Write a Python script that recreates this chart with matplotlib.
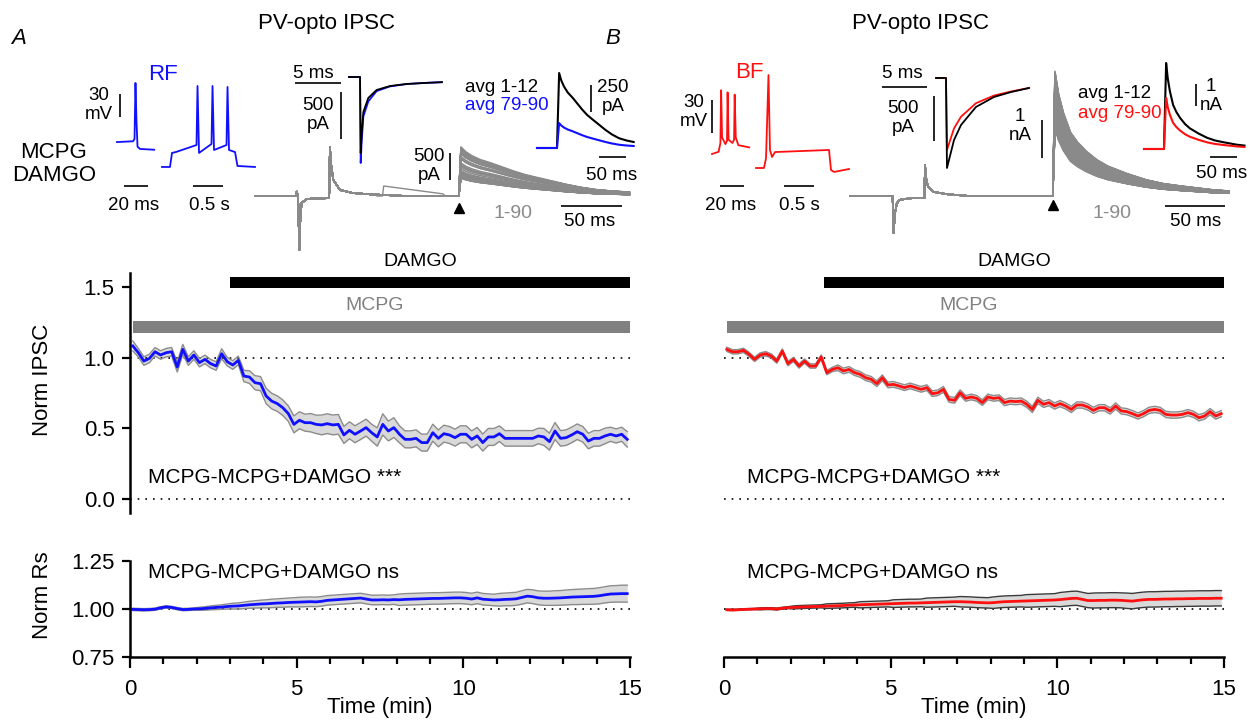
import numpy as np
import matplotlib
matplotlib.use("Agg")
import matplotlib.pyplot as plt
from matplotlib.ticker import FixedLocator, MultipleLocator

plt.rcParams['font.family'] = ['Liberation Sans', 'DejaVu Sans']

# ------------------------------------------------------------------ data
n_sweeps = 90
sweep_min = 1 / 6          # one sweep every 10 s
time_min = (np.arange(n_sweeps) + 0.5) * sweep_min

ipsc_rf = [1.083, 1.035, 0.976, 0.995, 1.042, 1.019, 1.035, 1.042, 0.934, 1.059,
           0.976, 1.019, 0.965, 0.988, 0.958, 0.941, 1.028, 0.972, 0.948, 0.981,
           0.870, 0.863, 0.823, 0.816, 0.729, 0.693, 0.675, 0.646, 0.604, 0.528,
           0.557, 0.540, 0.540, 0.528, 0.524, 0.533, 0.524, 0.528, 0.453, 0.486,
           0.458, 0.481, 0.505, 0.469, 0.439, 0.528, 0.481, 0.505, 0.458, 0.422,
           0.422, 0.429, 0.399, 0.399, 0.469, 0.429, 0.462, 0.453, 0.434, 0.458,
           0.458, 0.422, 0.446, 0.399, 0.439, 0.439, 0.462, 0.429, 0.429, 0.429,
           0.429, 0.429, 0.429, 0.446, 0.439, 0.406, 0.481, 0.429, 0.434, 0.453,
           0.476, 0.458, 0.410, 0.429, 0.429, 0.446, 0.458, 0.446, 0.458, 0.422]
ipsc_rf_sem = [0.035, 0.030, 0.030, 0.030, 0.030, 0.030, 0.030, 0.030, 0.035, 0.035,
               0.030, 0.030, 0.030, 0.030, 0.030, 0.030, 0.035, 0.030, 0.030, 0.030,
               0.040, 0.045, 0.050, 0.050, 0.055, 0.055, 0.055, 0.055, 0.055, 0.060,
               0.060, 0.060, 0.065, 0.065, 0.070, 0.070, 0.070, 0.070, 0.060, 0.060,
               0.060, 0.060, 0.060, 0.060, 0.065, 0.075, 0.070, 0.070, 0.060, 0.060,
               0.060, 0.060, 0.060, 0.060, 0.060, 0.060, 0.060, 0.060, 0.060, 0.060,
               0.060, 0.060, 0.060, 0.060, 0.060, 0.060, 0.055, 0.055, 0.055, 0.055,
               0.055, 0.055, 0.055, 0.055, 0.060, 0.060, 0.060, 0.055, 0.055, 0.055,
               0.055, 0.055, 0.055, 0.055, 0.055, 0.055, 0.050, 0.050, 0.050, 0.055]

ipsc_bf = [1.059, 1.042, 1.042, 1.052, 1.024, 0.988, 1.019, 1.028, 1.012, 0.976,
           1.047, 0.958, 0.988, 0.941, 0.976, 0.941, 0.941, 1.005, 0.894, 0.917,
           0.929, 0.906, 0.917, 0.894, 0.882, 0.858, 0.847, 0.816, 0.858, 0.807,
           0.811, 0.800, 0.788, 0.800, 0.788, 0.776, 0.788, 0.745, 0.752, 0.776,
           0.705, 0.698, 0.752, 0.712, 0.722, 0.712, 0.682, 0.722, 0.712, 0.717,
           0.682, 0.693, 0.689, 0.693, 0.670, 0.634, 0.698, 0.670, 0.682, 0.658,
           0.675, 0.658, 0.634, 0.665, 0.665, 0.651, 0.627, 0.646, 0.646, 0.623,
           0.658, 0.623, 0.618, 0.604, 0.587, 0.604, 0.627, 0.634, 0.627, 0.599,
           0.594, 0.594, 0.599, 0.611, 0.599, 0.575, 0.587, 0.618, 0.587, 0.604]
ipsc_bf_sem = [0.015] * 20 + [0.020] * 30 + [0.022] * 40

rs_rf = [0.998, 0.997, 0.996, 0.997, 0.999, 1.006, 1.011, 1.008, 1.002, 0.997,
         0.998, 1.000, 1.001, 1.003, 1.006, 1.008, 1.010, 1.013, 1.015, 1.016,
         1.019, 1.022, 1.024, 1.026, 1.027, 1.029, 1.031, 1.032, 1.034, 1.035,
         1.036, 1.037, 1.038, 1.037, 1.040, 1.045, 1.047, 1.049, 1.051, 1.053,
         1.055, 1.057, 1.052, 1.047, 1.047, 1.048, 1.047, 1.049, 1.048, 1.050,
         1.051, 1.052, 1.053, 1.054, 1.055, 1.055, 1.056, 1.057, 1.058, 1.058,
         1.056, 1.052, 1.058, 1.051, 1.049, 1.047, 1.048, 1.050, 1.051, 1.053,
         1.060, 1.067, 1.064, 1.058, 1.056, 1.056, 1.057, 1.058, 1.060, 1.062,
         1.063, 1.064, 1.065, 1.066, 1.069, 1.074, 1.078, 1.079, 1.080, 1.080]
rs_rf_sem = [0.006] * 12 + [0.008, 0.009, 0.010, 0.011, 0.012, 0.013] + \
            [0.015, 0.016, 0.017, 0.018, 0.019, 0.020, 0.021, 0.022, 0.022, 0.023, 0.023, 0.024] + \
            [0.025] * 18 + [0.030] * 18 + \
            [0.033, 0.033, 0.034, 0.034, 0.035, 0.035, 0.036, 0.036, 0.037, 0.037, 0.038, 0.038,
             0.039, 0.039, 0.040, 0.040, 0.041, 0.041, 0.042, 0.042, 0.043, 0.043, 0.044, 0.044]

rs_bf = [0.996, 0.995, 0.996, 0.998, 0.999, 1.000, 1.001, 1.002, 1.002, 1.000,
         1.004, 1.007, 1.008, 1.010, 1.011, 1.012, 1.013, 1.014, 1.015, 1.016,
         1.017, 1.018, 1.020, 1.021, 1.022, 1.023, 1.024, 1.025, 1.026, 1.027,
         1.028, 1.029, 1.030, 1.031, 1.031, 1.032, 1.033, 1.034, 1.035, 1.036,
         1.037, 1.038, 1.038, 1.037, 1.036, 1.034, 1.033, 1.032, 1.033, 1.036,
         1.038, 1.039, 1.040, 1.041, 1.042, 1.043, 1.044, 1.045, 1.046, 1.047,
         1.049, 1.052, 1.055, 1.056, 1.050, 1.044, 1.044, 1.045, 1.045, 1.046,
         1.046, 1.045, 1.043, 1.041, 1.045, 1.048, 1.050, 1.050, 1.051, 1.052,
         1.052, 1.053, 1.053, 1.054, 1.054, 1.055, 1.055, 1.055, 1.056, 1.056]
rs_bf_sem = [0.003] * 6 + [0.005] * 6 + [0.008] * 6 + [0.012] * 6 + [0.016] * 6 + \
            [0.020] * 6 + [0.024] * 6 + [0.027] * 6 + [0.030] * 6 + [0.033] * 6 + \
            [0.037] * 6 + [0.039] * 6 + [0.040] * 18

drug_damgo = (3.0, 15.0)
drug_mcpg = (0.1, 15.0)

# example-cell traces
ap_rf_1_t = [0, 13.3, 14.6, 15.4, 16.2, 17.1, 19.2, 31]                       # ms
ap_rf_1_v = [-65, -64, -61, 12, -36, -71, -74, -75]                          # mV
ap_rf_2_t = [0, 0.133, 0.167, 0.233, 0.575, 0.592, 0.617, 0.825, 0.842, 0.867,
             1.075, 1.092, 1.117, 1.217, 1.258, 1.55]                         # s
ap_rf_2_v = [-80, -80, -61.7, -60.5, -51.4, 25.6, -61.7, -50, 25.6, -57.9,
             -51.4, 24.3, -57.9, -60.5, -78.7, -80]
ap_bf_1_t = [0, 5.5, 7.0, 7.6, 8.4, 11.2, 12.5, 13.0, 13.8, 17.0, 18.4, 18.9, 19.8, 22, 31]
ap_bf_1_v = [-65, -63, -55, -7, -50, -56, -53, -9, -52, -55, -52, -11, -50, -57, -59]
ap_bf_2_t = [0, 0.133, 0.167, 0.208, 0.233, 0.267, 0.317, 1.217, 1.25, 1.3, 1.55]
ap_bf_2_v = [-75, -75, -66, 9.5, -58.6, -65, -60.5, -58.6, -76.8, -78.6, -75.9]

cap_rf_t = [0, 1.2, 1.27, 1.38, 1.56, 2.1, 3.0, 4.46, 6.27, 8.08, 10.1]       # ms
cap_rf_first = [0, 0, -808, -600, -372, -223, -138, -96, -74, -64, -55]      # pA
cap_rf_last = [0, 0, -915, -680, -420, -260, -150, -100, -75, -64, -55]
cap_bf_t = [0, 1.11, 1.22, 2.0, 2.78, 4.44, 6.44, 8.33, 10.33]
cap_bf_first = [0, 0, -1000, -689, -522, -322, -211, -156, -111]
cap_bf_last = [0, 0, -800, -560, -430, -280, -195, -150, -111]

sweep_rf_t = [0, 33.5, 34.2, 35.3, 36.3, 37.2, 38.2, 42.3, 50, 60.8, 61.4, 62.3,
              64.2, 69.7, 80, 96.7, 124, 167]
sweep_rf_i = [0, 0, 80, 0, -1000, -400, -130, -55, -45, -40, 913, 600,
              296, 111, 55, 28, 0, 0]
sweep_bf_t = [0, 35.5, 36.3, 37.5, 39, 41, 50, 62, 62.5, 63.5, 65, 69, 80, 99, 169]
sweep_bf_i = [0, 0, -965, -450, -200, -105, -60, -50, 816, 450, 250, 113, 50, 0, 0]
spont_rf_t = [100, 104.5, 105.5, 154, 156]
spont_rf_i = [0, 0, 185, 40, 0]

onset_rf, onset_bf = 167.0, 169.0       # ms, light pulse in sweep
rise_ms = 1.8
peak_rf_pA, peak_bf_pA = 840.0, 3100.0  # first-sweep amplitude (norm = 1)
decay_rf_t = [0, 4, 9, 16, 25, 34, 43, 52, 62, 74, 86, 98, 111, 125, 138]
decay_rf_f = [1.0, 0.90, 0.82, 0.74, 0.67, 0.59, 0.51, 0.44, 0.38, 0.31, 0.24, 0.18, 0.13, 0.10, 0.08]
decay_bf_t = [0, 3, 7, 13, 19, 26, 35, 44, 60, 76, 90, 105, 118, 131, 145]
decay_bf_f = [1.0, 0.82, 0.67, 0.51, 0.43, 0.36, 0.29, 0.24, 0.18, 0.13, 0.10, 0.08, 0.065, 0.05, 0.04]

avg_rf_peaks = [694, 231]       # pA, avg 1-12 / avg 79-90
avg_bf_peaks = [3909, 2318]
avg_onset, avg_rise = 37.0, 4.0

# ------------------------------------------------------------------ styles
BLUE = '#1010ff'
RED = '#ff1010'
TGRAY = '#8a8a8a'
W, H = 1251, 721
fig = plt.figure(figsize=(W / 100, H / 100), dpi=100)


def fpos(L, T, R, B):
    return [L / W, 1 - B / H, (R - L) / W, (B - T) / H]


def ftxt(x, y, s, **kw):
    kw.setdefault('ha', 'center')
    kw.setdefault('va', 'center')
    fig.text(x / W, 1 - y / H, s, **kw)


class Inset:
    def __init__(self, L, T, R, B, ox, oy, sx, sy):
        self.ox, self.oy, self.sx, self.sy = ox, oy, sx, sy
        ax = fig.add_axes(fpos(L, T, R, B))
        ax.set_xlim((L - ox) / sx, (R - ox) / sx)
        ax.set_ylim((oy - B) / sy, (oy - T) / sy)
        ax.axis('off')
        self.ax = ax

    def dx(self, xp):
        return (xp - self.ox) / self.sx

    def dy(self, yp):
        return (self.oy - yp) / self.sy

    def hbar(self, xp, yp, length):
        x0, y = self.dx(xp), self.dy(yp)
        self.ax.plot([x0, x0 + length], [y, y], color='k', lw=1.2,
                     solid_capstyle='butt', clip_on=False)

    def vbar(self, xp, yp_bottom, length):
        x, y0 = self.dx(xp), self.dy(yp_bottom)
        self.ax.plot([x, x], [y0, y0 + length], color='k', lw=1.2,
                     solid_capstyle='butt', clip_on=False)

    def plot(self, t, v, **kw):
        self.ax.plot(t, v, clip_on=False, **kw)


FS_IN = 13.5
FS_TICK = 16

# ------------------------------------------------------------------ time courses
def timecourse(L, mean, sem, color, edge, show_y, txt_x):
    mean = np.array(mean); sem = np.array(sem)
    ax = fig.add_axes(fpos(L, 272.9, L + 500, 513.1))
    ax.set_xlim(0, 15)
    ax.set_ylim(-0.1, 1.6)
    for s in ['top', 'right', 'bottom']:
        ax.spines[s].set_visible(False)
    ax.set_xticks([])
    if show_y:
        ax.spines['left'].set_linewidth(1.8)
        ax.set_yticks([0, 0.5, 1.0, 1.5])
        ax.set_yticklabels(['0.0', '0.5', '1.0', '1.5'])
        ax.tick_params(axis='y', length=6, width=1.6, labelsize=FS_TICK, pad=5)
    else:
        ax.spines['left'].set_visible(False)
        ax.set_yticks([])
    for yl in (0.0, 1.0):
        ax.plot([0, 15], [yl, yl], color='k', lw=1.2, ls=(0, (1, 3.6)))
    ax.fill_between(time_min, mean - sem, mean + sem, color='#d9d9d9', lw=0)
    ax.plot(time_min, mean + sem, color=edge, lw=1.0)
    ax.plot(time_min, mean - sem, color=edge, lw=1.0)
    ax.plot(time_min, mean, color=color, lw=2.0)
    ax.fill_between(drug_damgo, 1.49, 1.57, color='k', lw=0)
    ax.fill_between(drug_mcpg, 1.175, 1.26, color='#808080', lw=0)
    ax.text(8.7, 1.684, 'DAMGO', ha='center', va='center', fontsize=14)
    ax.text(7.35, 1.366, 'MCPG', ha='center', va='center', fontsize=14, color='#808080')
    ax.text(txt_x, 0.149, 'MCPG-MCPG+DAMGO ***', ha='left', va='center', fontsize=15)
    return ax


def rs_axes(L, mean, sem, color, edge, show_y, txt_x):
    mean = np.array(mean); sem = np.array(sem)
    ax = fig.add_axes(fpos(L, 561, L + 500, 657))
    ax.set_xlim(0, 15)
    ax.set_ylim(0.75, 1.25)
    ax.spines['top'].set_visible(False)
    ax.spines['right'].set_visible(False)
    ax.spines['bottom'].set_linewidth(1.8)
    if show_y:
        ax.spines['left'].set_linewidth(1.8)
        ax.set_yticks([0.75, 1.0, 1.25])
        ax.set_yticklabels(['0.75', '1.00', '1.25'])
        ax.tick_params(axis='y', length=6, width=1.6, labelsize=FS_TICK, pad=5)
    else:
        ax.spines['left'].set_visible(False)
        ax.set_yticks([])
    ax.xaxis.set_major_locator(FixedLocator([0, 5, 10, 15]))
    ax.xaxis.set_minor_locator(MultipleLocator(1))
    ax.tick_params(axis='x', which='major', length=8, width=1.6, labelsize=FS_TICK, pad=8)
    ax.tick_params(axis='x', which='minor', length=5, width=1.6)
    ax.plot([0, 15], [1, 1], color='k', lw=1.2, ls=(0, (1, 3.6)))
    ax.fill_between(time_min, mean - sem, mean + sem, color='#d9d9d9', lw=0)
    ax.plot(time_min, mean + sem, color=edge, lw=1.0)
    ax.plot(time_min, mean - sem, color=edge, lw=1.0)
    ax.plot(time_min, mean, color=color, lw=2.0)
    ax.text(txt_x, 1.1875, 'MCPG-MCPG+DAMGO ns', ha='left', va='center', fontsize=15)
    return ax


timecourse(130, ipsc_rf, ipsc_rf_sem, BLUE, '#8c8c8c', True, 0.54)
timecourse(724, ipsc_bf, ipsc_bf_sem, RED, '#8c8c8c', False, 0.68)
rs_axes(130, rs_rf, rs_rf_sem, BLUE, '#8c8c8c', True, 0.555)
rs_axes(724, rs_bf, rs_bf_sem, RED, '#3a3a3a', False, 0.70)

ftxt(43, 380, 'Norm IPSC', rotation=90, fontsize=16)
ftxt(43, 595, 'Norm Rs', rotation=90, fontsize=16)
ftxt(380, 708, 'Time (min)', fontsize=16)
ftxt(974, 708, 'Time (min)', fontsize=16)

# ------------------------------------------------------------------ headers
ftxt(19, 38, 'A', fontsize=16, style='italic')
ftxt(613, 38, 'B', fontsize=16, style='italic')
ftxt(326, 23, 'PV-opto IPSC', fontsize=16)
ftxt(920, 23, 'PV-opto IPSC', fontsize=16)
ftxt(54, 164, 'MCPG\nDAMGO', fontsize=16, linespacing=1.15)


def sweep_trace(base_t, base_i, onset, amp, dec_t, dec_f):
    t = list(base_t) + [onset + rise_ms + d for d in dec_t]
    i = list(base_i) + [amp * f for f in dec_f]
    return t, i


def panel_insets(cfg):
    c = cfg['color']
    # single AP
    a1 = Inset(*cfg['ap1_box'])
    a1.plot(cfg['ap1'][0], cfg['ap1'][1], color=c, lw=1.3)
    a1.vbar(*cfg['ap1_vbar'], 30)
    a1.hbar(*cfg['ap1_hbar'], 20)
    # firing pattern
    a2 = Inset(*cfg['ap2_box'])
    a2.plot(cfg['ap2'][0], cfg['ap2'][1], color=c, lw=1.3)
    a2.hbar(*cfg['ap2_hbar'], 0.5)
    # capacitive transient
    a3 = Inset(*cfg['cap_box'])
    a3.plot(cfg['cap_t'], cfg['cap_last'], color=c, lw=1.3)
    a3.plot(cfg['cap_t'], cfg['cap_first'], color='k', lw=1.3)
    a3.hbar(*cfg['cap_hbar'], 5)
    a3.vbar(*cfg['cap_vbar'], 500)
    # all sweeps
    a4 = Inset(*cfg['sw_box'])
    for k in range(n_sweeps):
        t, i = sweep_trace(cfg['sw_t'], cfg['sw_i'], cfg['onset'],
                           cfg['peak'] * cfg['norm'][k], cfg['dec_t'], cfg['dec_f'])
        a4.plot(t, i, color=TGRAY, lw=1.1)
    if cfg.get('spont'):
        a4.plot(cfg['spont'][0], cfg['spont'][1], color=TGRAY, lw=1.0)
    a4.ax.plot([cfg['onset']], [a4.dy(cfg['tri_y'])], marker='^', color='k',
               ms=7, clip_on=False)
    a4.vbar(*cfg['sw_vbar'], cfg['sw_vlen'])
    a4.hbar(*cfg['sw_hbar'], 50)
    # averages
    a5 = Inset(*cfg['avg_box'])
    for amp, col in zip(cfg['avg_peaks'], ['k', c]):
        t = [0, avg_onset] + [avg_onset + avg_rise + d for d in cfg['dec_t']]
        i = [0, 0] + [amp * f for f in cfg['dec_f']]
        a5.plot(t, i, color=col, lw=1.5)
    a5.vbar(*cfg['avg_vbar'], cfg['avg_vlen'])
    a5.hbar(*cfg['avg_hbar'], 50)


panel_insets(dict(
    color=BLUE,
    ap1_box=(110, 75, 160, 160, 117, 92.2, 1.2, 0.767), ap1=(ap_rf_1_t, ap_rf_1_v),
    ap1_vbar=(120, 117), ap1_hbar=(124, 186),
    ap2_box=(160, 75, 260, 175, 162, 105.6, 60, 0.767), ap2=(ap_rf_2_t, ap_rf_2_v),
    ap2_hbar=(193, 186),
    cap_box=(345, 70, 445, 170, 349, 77, 9.2, 0.094), cap_t=cap_rf_t,
    cap_first=cap_rf_first, cap_last=cap_rf_last, cap_hbar=(295, 83), cap_vbar=(341, 139),
    sw_box=(255, 140, 632, 250, 255, 196, 1.22, 0.054), sw_t=sweep_rf_t, sw_i=sweep_rf_i,
    onset=onset_rf, peak=peak_rf_pA, norm=ipsc_rf, dec_t=decay_rf_t, dec_f=decay_rf_f,
    spont=(spont_rf_t, spont_rf_i), tri_y=208, sw_vbar=(450, 180), sw_vlen=500,
    sw_hbar=(561, 206),
    avg_box=(535, 60, 632, 160, 537, 148, 0.54, 0.108), avg_peaks=avg_rf_peaks,
    avg_vbar=(591, 112), avg_vlen=250, avg_hbar=(599, 157),
))

panel_insets(dict(
    color=RED,
    ap1_box=(705, 75, 755, 160, 712, 82.5, 1.2, 1.1), ap1=(ap_bf_1_t, ap_bf_1_v),
    ap1_vbar=(712, 133), ap1_hbar=(720, 186),
    ap2_box=(750, 70, 855, 175, 756, 85.5, 60, 1.1), ap2=(ap_bf_2_t, ap_bf_2_v),
    ap2_hbar=(784, 186),
    cap_box=(930, 70, 1035, 170, 936, 78, 9.0, 0.09), cap_t=cap_bf_t,
    cap_first=cap_bf_first, cap_last=cap_bf_last, cap_hbar=(882, 87), cap_vbar=(934, 141),
    sw_box=(850, 60, 1230, 250, 850, 196, 1.2, 0.038), sw_t=sweep_bf_t, sw_i=sweep_bf_i,
    onset=onset_bf, peak=peak_bf_pA, norm=ipsc_bf, dec_t=decay_bf_t, dec_f=decay_bf_f,
    spont=None, tri_y=205, sw_vbar=(1042, 158), sw_vlen=1000, sw_hbar=(1165, 206),
    avg_box=(1140, 55, 1245, 160, 1144, 149, 0.54, 0.022), avg_peaks=avg_bf_peaks,
    avg_vbar=(1196, 106), avg_vlen=1000, avg_hbar=(1210, 157),
))

# inset labels
ftxt(163, 75, 'RF', fontsize=16, color=BLUE)
ftxt(99, 105, '30\nmV', fontsize=FS_IN, linespacing=1.1)
ftxt(133.5, 206, '20 ms', fontsize=FS_IN)
ftxt(209, 206, '0.5 s', fontsize=FS_IN)
ftxt(313.5, 74, '5 ms', fontsize=FS_IN)
ftxt(318, 115, '500\npA', fontsize=FS_IN, linespacing=1.1)
ftxt(429, 166, '500\npA', fontsize=FS_IN, linespacing=1.1)
ftxt(513, 213, '1-90', fontsize=14, color=TGRAY)
ftxt(590, 222, '50 ms', fontsize=FS_IN)
ftxt(465, 87, 'avg 1-12', fontsize=FS_IN, ha='left')
ftxt(465, 106, 'avg 79-90', fontsize=FS_IN, ha='left', color=BLUE)
ftxt(613, 97, '250\npA', fontsize=FS_IN, linespacing=1.1)
ftxt(612, 175, '50 ms', fontsize=FS_IN)

ftxt(749, 73, 'BF', fontsize=16, color=RED)
ftxt(694, 112, '30\nmV', fontsize=FS_IN, linespacing=1.1)
ftxt(731, 206, '20 ms', fontsize=FS_IN)
ftxt(799, 206, '0.5 s', fontsize=FS_IN)
ftxt(902, 73, '5 ms', fontsize=FS_IN)
ftxt(903, 118, '500\npA', fontsize=FS_IN, linespacing=1.1)
ftxt(1020, 126, '1\nnA', fontsize=FS_IN, linespacing=1.1)
ftxt(1112, 214, '1-90', fontsize=14, color=TGRAY)
ftxt(1196, 222, '50 ms', fontsize=FS_IN)
ftxt(1078, 94, 'avg 1-12', fontsize=FS_IN, ha='left')
ftxt(1078, 113, 'avg 79-90', fontsize=FS_IN, ha='left', color=RED)
ftxt(1211, 96, '1\nnA', fontsize=FS_IN, linespacing=1.1)
ftxt(1222, 173, '50 ms', fontsize=FS_IN)

fig.savefig('out.png', dpi=100)
